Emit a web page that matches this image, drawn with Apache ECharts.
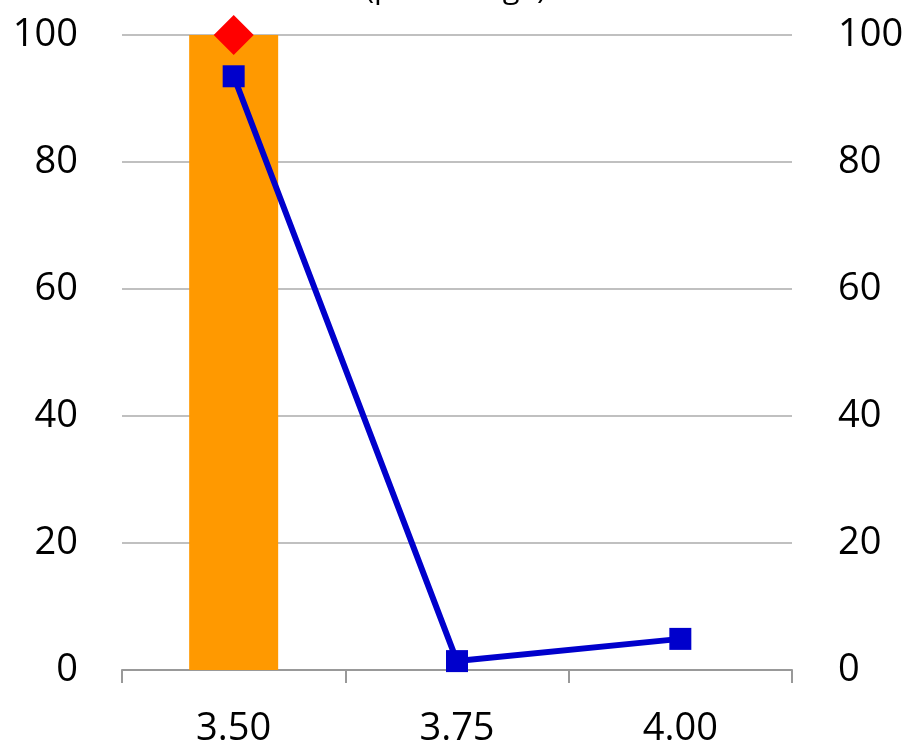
<!DOCTYPE html>
<html><head><meta charset="utf-8">
<script src="https://cdn.jsdelivr.net/npm/echarts@6/dist/echarts.min.js"></script>
<style>html,body{margin:0;padding:0;background:#fff}#c{width:911px;height:744px}</style>
</head><body><div id="c"></div>
<script>
const categories = ['3.50', '3.75', '4.00'];
const barValues = [100, 0, 0];
const lineValues = [93.5, 1.4, 4.9];
const diamondValues = [100, null, null];
const yTicks = [0, 20, 40, 60, 80, 100];
const titleText = '(percentage)';

const chart = echarts.init(document.getElementById('c'));
const font = 'Open Sans';
chart.setOption({
  animation: false,
  textStyle: { fontFamily: font },
  graphic: [{
    type: 'text', left: 'center', top: -26,
    style: { text: titleText, font: '500 31px "Open Sans"', fill: '#000' }
  }],
  grid: { left: 122, right: 119, top: 35, bottom: 74, containLabel: false, outerBoundsMode: 'none' },
  xAxis: {
    type: 'category', data: categories, boundaryGap: true,
    axisLine: { lineStyle: { color: '#999', width: 2 } },
    axisTick: { show: true, length: 13, lineStyle: { color: '#999', width: 2 } },
    axisLabel: { fontSize: 38, fontWeight: 500, color: '#000', margin: 40, fontFamily: font }
  },
  yAxis: [
    { type: 'value', min: yTicks[0], max: yTicks[yTicks.length - 1], interval: 20,
      axisLine: { show: false }, axisTick: { show: false },
      splitLine: { lineStyle: { color: '#c0c0c0', width: 2 } },
      axisLabel: { fontSize: 38, fontWeight: 500, color: '#000', margin: 44, fontFamily: font } },
    { type: 'value', min: yTicks[0], max: yTicks[yTicks.length - 1], interval: 20,
      axisLine: { show: false }, axisTick: { show: false }, splitLine: { show: false },
      axisLabel: { fontSize: 38, fontWeight: 500, color: '#000', margin: 46, fontFamily: font } }
  ],
  series: [
    { type: 'bar', data: barValues, barWidth: 89, itemStyle: { color: '#FF9900' }, z: 1 },
    { type: 'line', data: lineValues, symbol: 'rect', symbolSize: 22,
      lineStyle: { color: '#0000CC', width: 6 }, itemStyle: { color: '#0000CC' }, z: 3 },
    { type: 'scatter', data: diamondValues, symbol: 'diamond', symbolSize: [40, 40],
      itemStyle: { color: '#FF0000', opacity: 1 }, z: 4 }
  ]
});
</script></body></html>
